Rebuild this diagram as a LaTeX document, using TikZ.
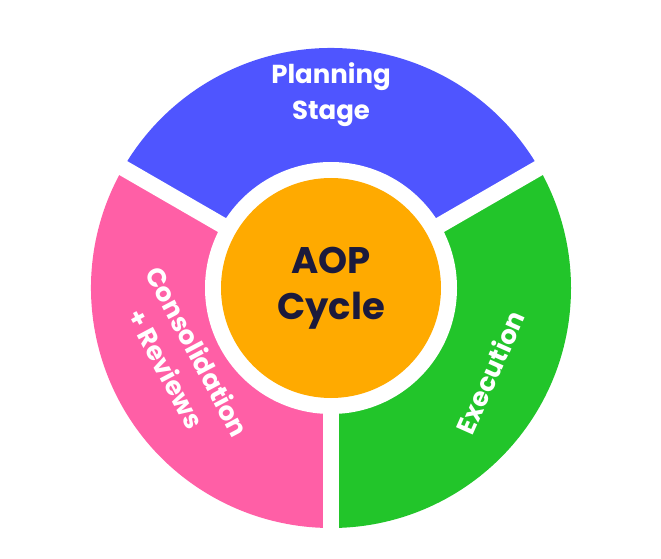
\documentclass[tikz,border=0pt]{standalone}
\usepackage{fontspec}
\setmainfont{Poppins}
\usetikzlibrary{positioning}
\definecolor{planblue}{HTML}{4F55FF}
\definecolor{execgreen}{HTML}{22C52A}
\definecolor{consopink}{HTML}{FF5FA6}
\definecolor{aoporange}{HTML}{FFAA00}
\definecolor{aopink}{HTML}{1B1A3C}
\tikzset{
  seglabel/.style={text=white, font=\bfseries\fontsize{26}{36}\selectfont, align=center},
  gapline/.style={white, line width=16pt}
}
\begin{document}
\begin{tikzpicture}[x=1pt, y=1pt]
  \useasboundingbox (0,0) rectangle (661,558);
  \coordinate (c) at (331,270);
  % ring segments
  \fill[planblue] (c) -- ++(30:240) arc (30:150:240) -- cycle;
  \fill[execgreen] (c) -- ++(-90:240) arc (-90:30:240) -- cycle;
  \fill[consopink] (c) -- ++(150:240) arc (150:270:240) -- cycle;
  % gaps
  \foreach \a in {30,150,270}
    \draw[gapline] (c) -- ++(\a:250);
  \fill[white] (c) circle (126);
  \fill[aoporange] (c) circle (110);
  % labels
  \node[font=\bfseries\fontsize{37}{46}\selectfont, text=aopink, align=center] (aop) at (c) {AOP\\Cycle};
  \node[seglabel] (plan) at (331,463) {Planning\\Stage};
  \node[seglabel, rotate=66] (exec) at (490,186) {Execution};
  \node[seglabel, rotate=-62] (cons) at (182,198) {Consolidation\\+ Reviews};
\end{tikzpicture}
\end{document}
